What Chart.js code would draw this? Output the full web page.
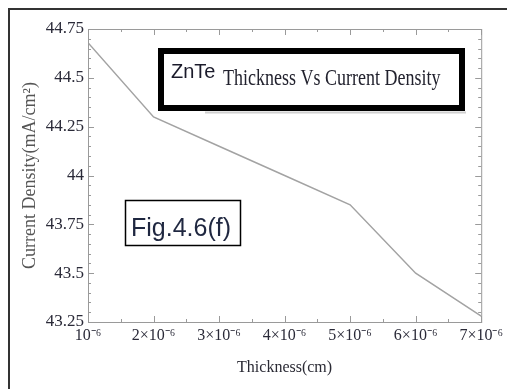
<!DOCTYPE html>
<html>
<head>
<meta charset="utf-8">
<script src="https://cdn.jsdelivr.net/npm/chart.js@4"></script>
<style>
  html, body { margin: 0; padding: 0; background: #fff; }
  #wrap { width: 507px; height: 389px; }
</style>
</head>
<body>
<div id="wrap"><canvas id="chart" width="507" height="389"></canvas></div>
<script>
// thickness in cm, current density in mA/cm^2
const thickness = [1e-6, 2e-6, 3e-6, 4e-6, 5e-6, 6e-6, 7e-6];
const currentDensity = [44.68, 44.30, 44.15, 44.00, 43.85, 43.50, 43.28];

const xTickValues = [1e-6, 2e-6, 3e-6, 4e-6, 5e-6, 6e-6, 7e-6];
const xTickLabels = ["10⁻⁶", "2×10⁻⁶", "3×10⁻⁶", "4×10⁻⁶", "5×10⁻⁶", "6×10⁻⁶", "7×10⁻⁶"];
const yTickValues = [43.25, 43.5, 43.75, 44, 44.25, 44.5, 44.75];
const yTickLabels = ["43.25", "43.5", "43.75", "44", "44.25", "44.5", "44.75"];

const serif = "'Liberation Serif', 'Times New Roman', serif";
const sans = "'Liberation Sans', Arial, sans-serif";
const axisGray = "#9a9a9a";

function stretchText(ctx, text, x, y, font, sy, color) {
    ctx.save();
    ctx.translate(x, y);
    ctx.scale(1, sy);
    ctx.font = font;
    ctx.fillStyle = color;
    ctx.textBaseline = "alphabetic";
    ctx.fillText(text, 0, 0);
    ctx.restore();
}

// frame on all four sides with inward ticks (major + minor)
const innerTicks = {
    id: "innerTicks",
    afterDraw(chart) {
        const {ctx, chartArea: a, scales: {x, y}} = chart;
        ctx.save();
        ctx.strokeStyle = axisGray;
        ctx.lineWidth = 1;
        ctx.strokeRect(a.left + 0.5, a.top + 0.5, a.right - a.left, a.bottom - a.top);
        ctx.beginPath();
        for (let i = 0; i < xTickValues.length; i++) {
            const px = Math.round(x.getPixelForValue(xTickValues[i])) + 0.5;
            ctx.moveTo(px, a.bottom); ctx.lineTo(px, a.bottom - 6);
            ctx.moveTo(px, a.top); ctx.lineTo(px, a.top + 6);
            if (i < xTickValues.length - 1) {
                const mx = Math.round(x.getPixelForValue((xTickValues[i] + xTickValues[i + 1]) / 2)) + 0.5;
                ctx.moveTo(mx, a.bottom); ctx.lineTo(mx, a.bottom - 3);
                ctx.moveTo(mx, a.top); ctx.lineTo(mx, a.top + 3);
            }
        }
        for (let i = 0; i < yTickValues.length; i++) {
            const py = Math.round(y.getPixelForValue(yTickValues[i])) + 0.5;
            ctx.moveTo(a.left, py); ctx.lineTo(a.left + 6, py);
            ctx.moveTo(a.right, py); ctx.lineTo(a.right - 6, py);
            if (i < yTickValues.length - 1) {
                const step = (yTickValues[i + 1] - yTickValues[i]) / 5;
                for (let k = 1; k < 5; k++) {
                    const my = Math.round(y.getPixelForValue(yTickValues[i] + k * step)) + 0.5;
                    ctx.moveTo(a.left, my); ctx.lineTo(a.left + 3, my);
                    ctx.moveTo(a.right, my); ctx.lineTo(a.right - 3, my);
                }
            }
        }
        ctx.stroke();
        ctx.restore();
    }
};

// outer page border and the two text boxes
const annotations = {
    id: "annotations",
    afterDraw(chart) {
        const ctx = chart.ctx;
        ctx.save();
        ctx.strokeStyle = "#333";
        ctx.lineWidth = 2;
        ctx.beginPath();
        ctx.moveTo(9, 389); ctx.lineTo(9, 9); ctx.lineTo(507, 9);
        ctx.stroke();

        // title box
        ctx.fillStyle = "#fff";
        ctx.fillRect(161, 51, 301, 57);
        ctx.strokeStyle = "#d0d0d0";
        ctx.lineWidth = 2;
        ctx.beginPath();
        ctx.moveTo(205, 112.5); ctx.lineTo(466, 112.5);
        ctx.stroke();
        ctx.strokeStyle = "#000";
        ctx.lineWidth = 6;
        ctx.strokeRect(161, 51, 301, 57);
        stretchText(ctx, "ZnTe", 171, 78, "20px " + sans, 1.05, "#1b1b2b");
        stretchText(ctx, "Thickness Vs Current Density", 223, 85, "18px " + serif, 1.3, "#22222e");

        // figure label box
        ctx.fillStyle = "#fff";
        ctx.fillRect(125.5, 200.5, 115, 45);
        ctx.strokeStyle = "#000";
        ctx.lineWidth = 1.5;
        ctx.strokeRect(125.5, 200.5, 115, 45);
        stretchText(ctx, "Fig.4.6(f)", 131, 236, "25px " + sans, 1.0, "#1f2740");
        ctx.restore();
    }
};

new Chart(document.getElementById("chart"), {
    type: "line",
    data: {
        labels: thickness,
        datasets: [{
            label: "Current Density",
            data: thickness.map((t, i) => ({x: t, y: currentDensity[i]})),
            borderColor: "#a3a3a3",
            borderWidth: 1.5,
            pointRadius: 0,
            tension: 0,
            fill: false
        }]
    },
    options: {
        responsive: false,
        animation: false,
        layout: {padding: {top: 29, right: 25, left: 0, bottom: 0}},
        plugins: {
            legend: {display: false},
            tooltip: {enabled: false}
        },
        scales: {
            x: {
                type: "linear",
                min: 1e-6,
                max: 7e-6,
                afterBuildTicks: s => { s.ticks = xTickValues.map(v => ({value: v})); },
                afterFit: s => { s.height = 67; },
                ticks: {
                    callback: (v, i) => xTickLabels[i],
                    autoSkip: false,
                    maxRotation: 0,
                    padding: 4,
                    color: "#2a2a38",
                    font: {family: serif, size: 16}
                },
                grid: {display: false, drawTicks: false},
                border: {display: true, color: axisGray},
                title: {
                    display: true,
                    text: "Thickness(cm)",
                    color: "#2a2a34",
                    font: {family: serif, size: 16},
                    padding: {bottom: 12}
                }
            },
            y: {
                min: 43.25,
                max: 44.75,
                afterBuildTicks: s => { s.ticks = yTickValues.map(v => ({value: v})); },
                afterFit: s => { s.width = 88; },
                ticks: {
                    callback: (v, i) => yTickLabels[i],
                    padding: 4,
                    color: "#2a2a38",
                    font: {family: serif, size: 17}
                },
                grid: {display: false, drawTicks: false},
                border: {display: true, color: axisGray},
                title: {
                    display: true,
                    text: "Current Density(mA/cm²)",
                    color: "#555",
                    font: {family: serif, size: 18},
                    padding: {top: 19}
                }
            }
        }
    },
    plugins: [innerTicks, annotations]
});
</script>
</body>
</html>
